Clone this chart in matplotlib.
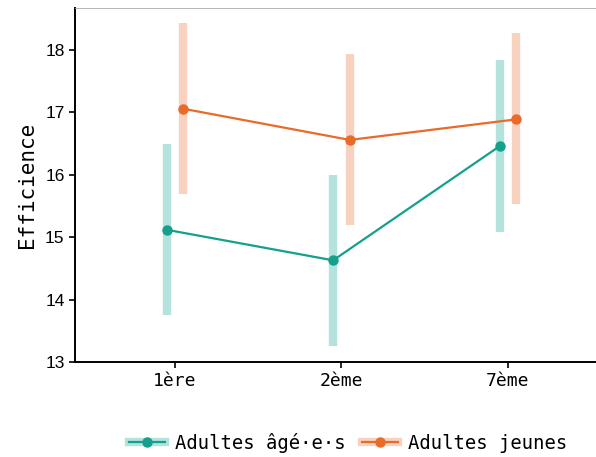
import matplotlib
matplotlib.use("Agg")
import matplotlib.pyplot as plt
from matplotlib.lines import Line2D
from matplotlib.legend_handler import HandlerTuple
import numpy as np

categories = ["1ère", "2ème", "7ème"]
series_names = ["Adultes âgé·e·s", "Adultes jeunes"]
mean_old = [15.12, 14.63, 16.46]
low_old = [13.76, 13.25, 15.09]
high_old = [16.49, 16.00, 17.84]
mean_young = [17.06, 16.56, 16.89]
low_young = [15.70, 15.19, 15.53]
high_young = [18.44, 17.94, 18.27]

colors = ["#14a08c", "#ea6a2a"]
light = ["#b3e3dc", "#f9d2bf"]

fig = plt.figure(figsize=(5.96, 4.57), dpi=100)
ax = fig.add_axes([75/596, 1-362/457, 1.02 - 75/596, (362-8)/457])

x = np.arange(1, len(categories) + 1)
dodge = 0.05
data = [(mean_old, low_old, high_old), (mean_young, low_young, high_young)]
handles = []
for i, (m, lo, hi) in enumerate(data):
    xs = x + (-dodge if i == 0 else dodge)
    ax.vlines(xs, lo, hi, color=light[i], linewidth=6, zorder=1)
    ax.plot(xs, m, color=colors[i], linewidth=1.6, marker="o", markersize=6.5, zorder=3)
    h = (Line2D([], [], color=light[i], linewidth=6),
         Line2D([], [], color=colors[i], linewidth=1.6, marker="o", markersize=6.5))
    handles.append(h)

ax.set_xlim(0.4, 3.6)
ax.set_ylim(13, 18.675)
ax.set_xticks(x)
ax.set_xticklabels(categories, family="DejaVu Sans Mono", fontsize=13)
ax.set_yticks([13, 14, 15, 16, 17, 18])
ax.set_yticklabels([str(v) for v in [13, 14, 15, 16, 17, 18]], family="Liberation Sans", fontsize=12.5)
ax.set_ylabel("Efficience", family="DejaVu Sans Mono", fontsize=15, labelpad=6)
ax.tick_params(axis="both", length=4, width=1.2, colors="black")
ax.spines["right"].set_visible(False)
ax.spines["top"].set_color("#aaaaaa")
ax.spines["top"].set_linewidth(0.6)
ax.spines["left"].set_linewidth(1.4)
ax.spines["bottom"].set_linewidth(1.4)

fig.legend(handles, series_names, loc="center", bbox_to_anchor=(0.584, 0.031), ncol=2,
           frameon=False, handler_map={tuple: HandlerTuple(ndivide=1, pad=0)},
           prop={"family": "DejaVu Sans Mono", "size": 13.6}, handlelength=1.9,
           columnspacing=0.85, handletextpad=0.55)

fig.savefig("out.png", dpi=100)
